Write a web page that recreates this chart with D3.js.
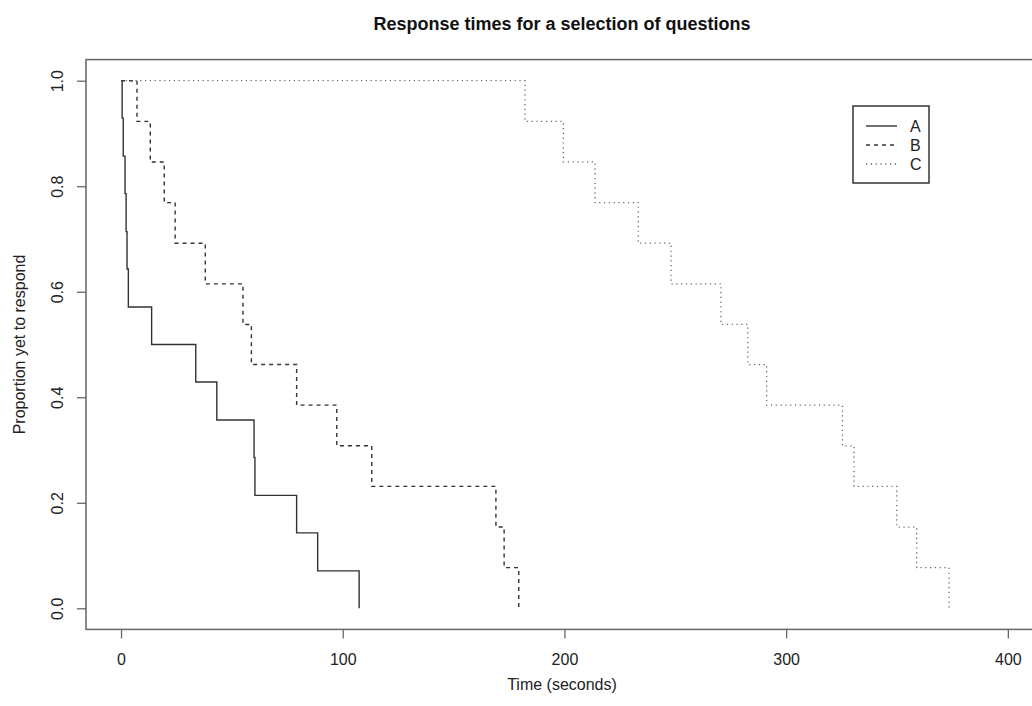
<!DOCTYPE html>
<html>
<head>
<meta charset="utf-8">
<script src="https://cdn.jsdelivr.net/npm/d3@7"></script>
<style>
  html, body { margin: 0; padding: 0; background: #fff; }
  svg { display: block; font-family: "Liberation Sans", Arial, Helvetica, sans-serif; }
</style>
</head>
<body>
<svg id="chart" width="1032" height="706"></svg>
<script>
// times (seconds) at which the proportion drops
var timesA = [0.5, 1, 1.8, 2.3, 2.7, 3.3, 13.8, 33.7, 43.2, 60.0, 60.4, 79.2, 88.7, 107.4];
var survA  = [0.929, 0.857, 0.786, 0.714, 0.643, 0.571, 0.5, 0.429, 0.357, 0.286, 0.214, 0.143, 0.071, 0];

var timesB = [7.2, 13.2, 19.5, 24.4, 38.0, 55.0, 58.8, 79.2, 97.3, 113.1, 169.1, 172.8, 179.4];
var survB  = [0.923, 0.846, 0.769, 0.692, 0.615, 0.538, 0.462, 0.385, 0.308, 0.231, 0.154, 0.077, 0];

var timesC = [182.2, 199.5, 213.8, 233.3, 248.1, 270.6, 282.7, 291.2, 325.4, 330.6, 349.9, 358.9, 373.5];
var survC  = [0.923, 0.846, 0.769, 0.692, 0.615, 0.538, 0.462, 0.385, 0.308, 0.231, 0.154, 0.077, 0];

var seriesNames = ['A', 'B', 'C'];
var xTicks = [0, 100, 200, 300, 400];
var yTicks = [0.0, 0.2, 0.4, 0.6, 0.8, 1.0];

var svg = d3.select('#chart');

// plot region (R style box, 4% padding on the data range)
var box = { left: 86, right: 1036, top: 59.6, bottom: 629.4 };

var x = d3.scaleLinear().domain([-15.8, 412.7]).range([box.left, box.right]);
var y = d3.scaleLinear().domain([-0.04, 1.04]).range([box.bottom, box.top]);

var ink = '#333';
var axisInk = '#666';
var fontSize = '16px';

function toSteps(times, surv) {
  var pts = [{ t: 0, s: 1 }];
  times.forEach(function(t, i) { pts.push({ t: t, s: surv[i] }); });
  return pts;
}

var series = [
  { name: seriesNames[0], pts: toSteps(timesA, survA), dash: null, color: '#333', width: 1.4 },
  { name: seriesNames[1], pts: toSteps(timesB, survB), dash: '4,4', color: '#333', width: 1.4 },
  { name: seriesNames[2], pts: toSteps(timesC, survC), dash: '1.2,3.6', color: '#666', width: 1.3 }
];

var line = d3.line()
  .x(function(d) { return x(d.t); })
  .y(function(d) { return y(d.s); })
  .curve(d3.curveStepAfter);

svg.append('g').attr('class', 'curves')
  .selectAll('path')
  .data(series)
  .enter().append('path')
  .attr('d', function(d) { return line(d.pts); })
  .attr('fill', 'none')
  .attr('stroke', function(d) { return d.color; })
  .attr('stroke-width', function(d) { return d.width; })
  .attr('stroke-dasharray', function(d) { return d.dash; });

// box
svg.append('rect')
  .attr('x', box.left).attr('y', box.top)
  .attr('width', box.right - box.left).attr('height', box.bottom - box.top)
  .attr('fill', 'none').attr('stroke', axisInk).attr('stroke-width', 1.5);

// x axis
var xAxis = d3.axisBottom(x).tickValues(xTicks).tickSize(9).tickPadding(15)
  .tickFormat(d3.format('d'));
var gx = svg.append('g').attr('transform', 'translate(0,' + box.bottom + ')').call(xAxis);
gx.select('.domain').remove();
gx.selectAll('.tick line').attr('stroke', axisInk).attr('stroke-width', 1.3);
gx.selectAll('.tick text').attr('fill', '#222').style('font-size', fontSize);

// y axis, labels rotated like R's las = 0
var yAxis = d3.axisLeft(y).tickValues(yTicks).tickSize(9).tickFormat(d3.format('.1f'));
var gy = svg.append('g').attr('transform', 'translate(' + box.left + ',0)').call(yAxis);
gy.select('.domain').remove();
gy.selectAll('.tick line').attr('stroke', axisInk).attr('stroke-width', 1.3);
gy.selectAll('.tick text')
  .attr('fill', '#222').style('font-size', fontSize)
  .attr('x', 0).attr('dy', null)
  .attr('text-anchor', 'middle')
  .attr('transform', 'translate(-23,0) rotate(-90)');

// title and axis titles
svg.append('text')
  .attr('x', (box.left + box.right) / 2 + 1).attr('y', 30)
  .attr('text-anchor', 'middle')
  .style('font-size', '18px').style('font-weight', 'bold')
  .attr('fill', '#111')
  .text('Response times for a selection of questions');

svg.append('text')
  .attr('x', (box.left + box.right) / 2 + 1).attr('y', 690)
  .attr('text-anchor', 'middle')
  .style('font-size', fontSize).attr('fill', '#222')
  .text('Time (seconds)');

svg.append('text')
  .attr('transform', 'translate(25,' + (box.top + box.bottom) / 2 + ') rotate(-90)')
  .attr('text-anchor', 'middle')
  .style('font-size', fontSize).attr('fill', '#222')
  .text('Proportion yet to respond');

// legend
var legend = svg.append('g').attr('transform', 'translate(853,106)');
legend.append('rect')
  .attr('width', 76).attr('height', 77)
  .attr('fill', '#fff').attr('stroke', ink).attr('stroke-width', 1.5);
var rows = legend.selectAll('g.row').data(series).enter().append('g')
  .attr('class', 'row')
  .attr('transform', function(d, i) { return 'translate(0,' + (20 + i * 19) + ')'; });
rows.append('line')
  .attr('x1', 13).attr('x2', 44)
  .attr('stroke', function(d) { return d.color; })
  .attr('stroke-width', function(d) { return d.width; })
  .attr('stroke-dasharray', function(d) { return d.dash; });
rows.append('text')
  .attr('x', 57).attr('y', 6)
  .style('font-size', fontSize).attr('fill', '#222')
  .text(function(d) { return d.name; });
</script>
</body>
</html>
